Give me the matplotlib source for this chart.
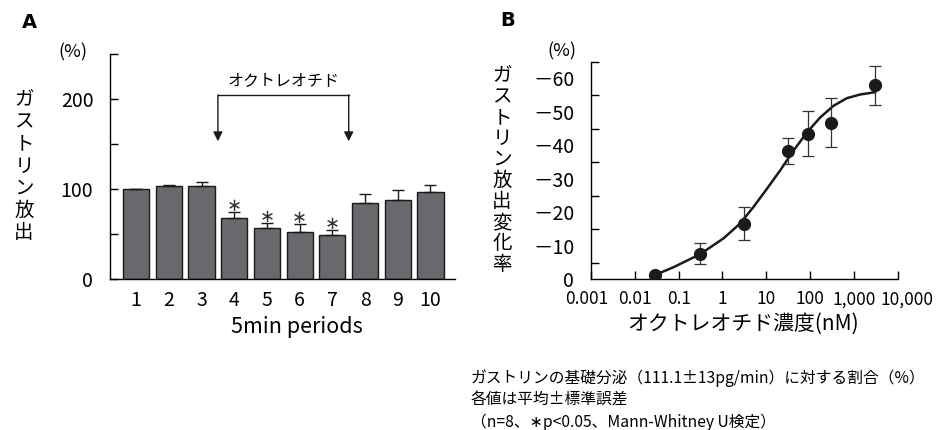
import matplotlib
matplotlib.use("Agg")
import matplotlib.pyplot as plt
import matplotlib.transforms as mtransforms
import numpy as np

plt.rcParams['font.family'] = ['Noto Sans CJK JP', 'DejaVu Sans']

# A: ガストリン放出 (%), 5分毎
periods = [1, 2, 3, 4, 5, 6, 7, 8, 9, 10]
release = [100, 103, 103, 67.5, 57, 52, 48.5, 84, 88, 96.5]
release_err = [0, 1.5, 5, 6.5, 5, 9, 6, 10, 10.5, 8.5]
signif = [4, 5, 6, 7]

# B: 濃度反応
conc = [0.029, 0.31, 3.1, 31, 89, 295, 3100]
change = [-1.2, -7.7, -16.6, -38.2, -43.5, -46.8, -57.9]
change_err = [0, 3.2, 5.0, 3.9, 6.8, 7.3, 5.9]
# fitted curve
curve_x = [0.029, 0.076, 0.31, 1.05, 2.5, 5.1, 10.3, 20.7, 41.6, 84, 169, 340, 690, 1390, 3050]
curve_y = [-1.3, -3.6, -7.5, -12.2, -16.6, -21.6, -27.0, -32.5, -38.4, -43.8, -48.3, -51.8, -54.1, -55.2, -55.9]
xtick_vals = [0.001, 0.01, 0.1, 1, 10, 100, 1000, 10000]
xtick_labels = ['0.001', '0.01', '0.1', '1', '10', '100', '1,000', '10,000']
ytick_vals = [0, -10, -20, -30, -40, -50, -60]
ytick_labels = ['0', '－10', '－20', '－30', '－40', '－50', '－60']

W, H = 947, 430
fig = plt.figure(figsize=(W / 100, H / 100), dpi=100)

# ---- panel A ----
axA = fig.add_axes([110 / W, 1 - 279 / H, 345 / W, 225 / H])
axA.bar(periods, release, width=0.8, color='#69696d', edgecolor='#1a1a1a', linewidth=1.0,
        yerr=[np.zeros(len(release_err)), release_err], capsize=4,
        error_kw=dict(ecolor='#1a1a1a', elinewidth=1.0, capthick=1.0))
for p in signif:
    i = periods.index(p)
    axA.text(p, release[i] + release_err[i] + 7, '∗', ha='center', va='center',
             fontsize=13, family='DejaVu Sans', color='#333333')
axA.set_xlim(0.2, 10.75)
axA.set_ylim(0, 250)
axA.set_yticks([0, 100, 200])
axA.set_yticks([50, 150, 250], minor=True)
axA.set_xticks(periods)
axA.tick_params(axis='y', which='both', direction='in', length=6, width=1, pad=12, labelsize=14)
axA.tick_params(axis='x', length=0, pad=8, labelsize=14)
for s in ['top', 'right']:
    axA.spines[s].set_visible(False)
axA.spines['left'].set_linewidth(1)
axA.spines['bottom'].set_linewidth(1)
axA.set_xlabel('5min periods', fontsize=15.5)
axA.xaxis.set_label_coords((297 - 110) / 345, -0.165)

# bracket with arrows
axA.plot([3.5, 7.5], [204, 204], color='#1a1a1a', lw=1)
for xa in [3.5, 7.5]:
    axA.annotate('', xy=(xa, 153), xytext=(xa, 204.5),
                 arrowprops=dict(arrowstyle='-|>', color='#1a1a1a', lw=1, mutation_scale=14,
                                 shrinkA=0, shrinkB=0))
axA.text(5.5, 219, 'オクトレオチド', ha='center', va='center', fontsize=11.5)

fig.text(22 / W, 1 - 22 / H, 'A', fontsize=14, fontweight='bold', family='DejaVu Sans',
         ha='left', va='center')
fig.text(73 / W, 1 - 52 / H, '(%)', fontsize=13, ha='center', va='center')
fig.text(24 / W, 1 - 166 / H, '\n'.join('ガストリン放出'), fontsize=14, ha='center',
         va='center', linespacing=1.07)

# ---- panel B ----
axB = fig.add_axes([591 / W, 1 - 279.3 / H, 306.7 / W, 217.6 / H])
axB.set_xscale('log')
axB.plot(curve_x, curve_y, color='#1a1a1a', lw=1.8, zorder=2)
axB.errorbar(conc, change, yerr=change_err, fmt='o', color='#1a1a1a', ms=8.5,
             ecolor='#333333', elinewidth=0.9, capsize=4, capthick=0.9, zorder=3)
axB.set_xlim(0.001, 10000)
axB.set_ylim(0, -65)
axB.set_xticks(xtick_vals)
axB.set_xticklabels(xtick_labels)
axB.xaxis.set_minor_locator(matplotlib.ticker.NullLocator())
axB.set_yticks(ytick_vals)
axB.set_yticklabels(ytick_labels)
axB.set_yticks([-5, -15, -25, -35, -45, -55, -65], minor=True)
axB.tick_params(axis='y', which='major', length=0, pad=12, labelsize=14)
axB.tick_params(axis='y', which='minor', direction='in', length=6, width=1)
axB.tick_params(axis='x', which='major', direction='in', length=6, width=1, pad=8, labelsize=12.5)
xlabels = axB.get_xticklabels()
xlabels[0].set_transform(xlabels[0].get_transform() +
                         mtransforms.ScaledTranslation(-4 / 100, 0, fig.dpi_scale_trans))
xlabels[-1].set_transform(xlabels[-1].get_transform() +
                          mtransforms.ScaledTranslation(9 / 100, 0, fig.dpi_scale_trans))
for s in ['top', 'right']:
    axB.spines[s].set_visible(False)
axB.spines['left'].set_linewidth(1)
axB.spines['bottom'].set_linewidth(1)
axB.set_xlabel('オクトレオチド濃度(nM)', fontsize=15)
axB.xaxis.set_label_coords((743 - 591) / 306.7, -0.155)

fig.text(500 / W, 1 - 20 / H, 'B', fontsize=14, fontweight='bold', family='DejaVu Sans',
         ha='left', va='center')
fig.text(562 / W, 1 - 51 / H, '(%)', fontsize=13, ha='center', va='center')
fig.text(502 / W, 1 - 170 / H, '\n'.join('ガストリン放出変化率'), fontsize=14, ha='center',
         va='center', linespacing=1.0)

notes = ['ガストリンの基礎分泌（111.1±13pg/min）に対する割合（%）',
         '各値は平均±標準誤差',
         '（n=8、∗p<0.05、Mann-Whitney U検定）']
for k, line in enumerate(notes):
    fig.text(471 / W, 1 - (378 + 22 * k) / H, line, fontsize=11.3, ha='left', va='center')

fig.savefig('out.png', dpi=100)
